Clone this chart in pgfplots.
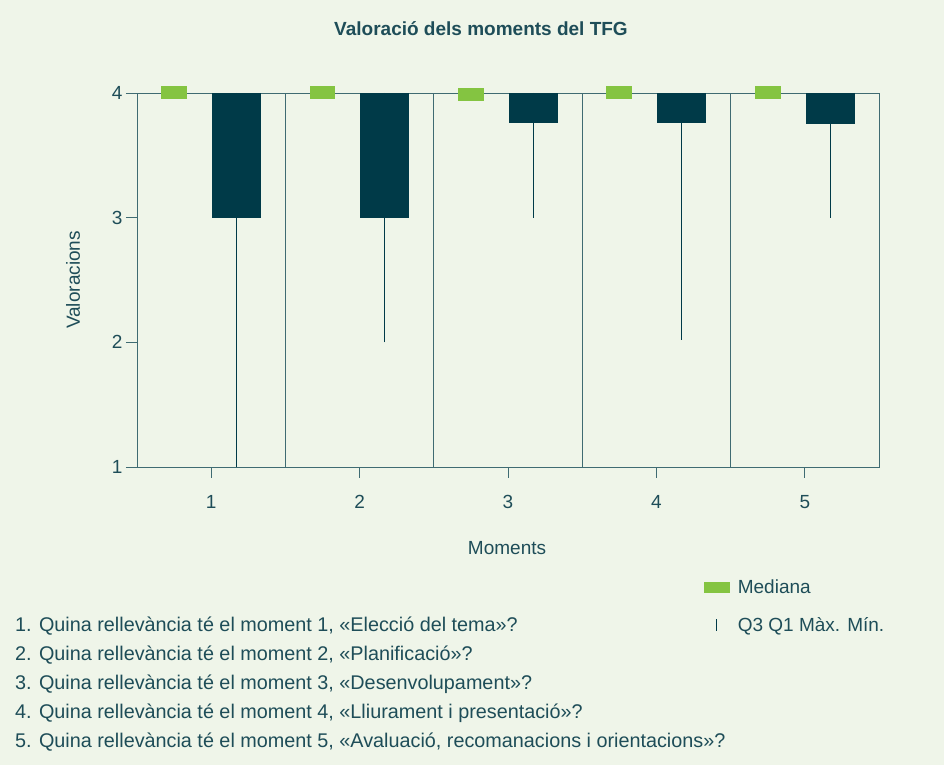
\documentclass[border=0pt]{standalone}
\usepackage{pgfplots}
\pgfplotsset{compat=1.18}
\usepgfplotslibrary{statistics}
\usepackage{fontspec}
\setmainfont{Liberation Sans}
\definecolor{bg}{HTML}{EFF5E9}
\definecolor{dark}{HTML}{003A48}
\definecolor{med}{HTML}{84C441}
\definecolor{txt}{HTML}{1E4D58}
\definecolor{axc}{HTML}{3F6B72}
\newcommand{\fs}{\fontsize{19bp}{22bp}\selectfont}
\newcommand{\fsq}{\fontsize{19.8bp}{22bp}\selectfont}
\newcommand{\fst}{\fontsize{19bp}{21bp}\selectfont}
\begin{document}
\begin{tikzpicture}
\fill[bg] (0,0) rectangle (944bp,765bp);
\begin{axis}[
  at={(137bp,298bp)}, anchor=south west,
  scale only axis, width=742bp, height=374bp,
  xmin=0.5, xmax=5.5, ymin=1, ymax=4,
  xtick={1,2,3,4,5}, ytick={1,2,3,4},
  tick pos=left, tick align=outside,
  major tick length=11bp,
  extra x ticks={1.5,2.5,3.5,4.5},
  extra x tick labels={},
  extra x tick style={grid=major, major tick length=0pt},
  major grid style={axc, line width=0.8pt},
  axis line style={axc, line width=0.8pt},
  tick style={axc, line width=0.8pt},
  /pgf/number format/assume math mode=true,
  tick label style={font=\fst, text=txt},
  xticklabel style={yshift=-14bp},
  xlabel={Moments}, ylabel={Valoracions},
  every axis x label/.style={at={(axis description cs:0.4987,-0.2166)}, anchor=center, font=\fs, text=txt},
  every axis y label/.style={at={(axis description cs:-0.0863,0.5)}, anchor=center, rotate=90, font=\fs, text=txt},
  clip=false,
  boxplot/draw direction=y,
  legend style={at={(axis description cs:0.7645,-0.296)}, anchor=north west, draw=none, fill=none,
    font=\fs, text=txt, row sep=18bp, inner sep=0pt,
    /tikz/every odd column/.append style={column sep=6bp}},
  legend cell align=left,
]
\addlegendimage{legend image code/.code={\fill[med] (0bp,-5bp) rectangle (25bp,5bp);}}
\addlegendentry{Mediana}
\addlegendimage{legend image code/.code={\draw[dark, line width=1pt] (12bp,-6bp) -- (12bp,6bp); \path (0bp,0bp) (25bp,0bp);}}
\addlegendentry{Q3 Q1 Màx. Mín.}

\addplot[forget plot, fill=dark, draw=dark, line width=0.9pt, boxplot prepared={draw position=1.17, lower whisker=1, lower quartile=3, median=3, upper quartile=4, upper whisker=4, box extend=0.323, whisker extend=0}] coordinates {};
\addplot[forget plot, fill=dark, draw=dark, line width=0.9pt, boxplot prepared={draw position=2.17, lower whisker=2, lower quartile=3, median=3, upper quartile=4, upper whisker=4, box extend=0.323, whisker extend=0}] coordinates {};
\addplot[forget plot, fill=dark, draw=dark, line width=0.9pt, boxplot prepared={draw position=3.17, lower whisker=3, lower quartile=3.76, median=3.76, upper quartile=4, upper whisker=4, box extend=0.323, whisker extend=0}] coordinates {};
\addplot[forget plot, fill=dark, draw=dark, line width=0.9pt, boxplot prepared={draw position=4.17, lower whisker=2.02, lower quartile=3.76, median=3.76, upper quartile=4, upper whisker=4, box extend=0.323, whisker extend=0}] coordinates {};
\addplot[forget plot, fill=dark, draw=dark, line width=0.9pt, boxplot prepared={draw position=5.17, lower whisker=3, lower quartile=3.755, median=3.755, upper quartile=4, upper whisker=4, box extend=0.323, whisker extend=0}] coordinates {};

\addplot[forget plot, med, only marks, mark=square*, mark size=6bp, mark options={fill=med, draw=med, line width=0pt, xscale=2.08}] coordinates {(0.75,4) (1.75,4) (2.75,3.99) (3.75,4) (4.75,4)};
\end{axis}
\node[anchor=base, text=txt, font=\bfseries\fs] at (481bp,729bp) {Valoració dels moments del TFG};
\begin{scope}[every node/.style={anchor=base west, text=txt, font=\fsq, inner sep=0pt}]
\node at (15bp,133bp) {1. Quina rellevància té el moment 1, «Elecció del tema»?};
\node at (15bp,104bp) {2. Quina rellevància té el moment 2, «Planificació»?};
\node at (15bp,75bp) {3. Quina rellevància té el moment 3, «Desenvolupament»?};
\node at (15bp,46bp) {4. Quina rellevància té el moment 4, «Lliurament i presentació»?};
\node at (15bp,18bp) {5. Quina rellevància té el moment 5, «Avaluació, recomanacions i orientacions»?};
\end{scope}
\end{tikzpicture}
\end{document}
